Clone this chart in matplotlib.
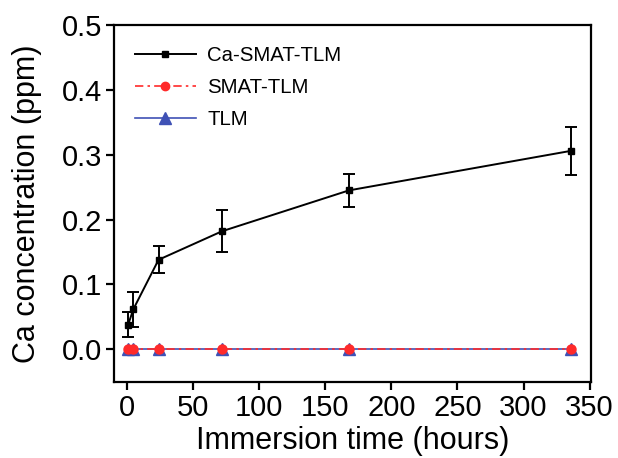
import matplotlib
matplotlib.use("Agg")
import matplotlib.pyplot as plt
from matplotlib.lines import Line2D

plt.rcParams['font.family'] = ['Liberation Sans', 'DejaVu Sans']

time_h = [1, 5, 24, 72, 168, 336]
ca_smat_tlm = [0.038, 0.062, 0.138, 0.182, 0.245, 0.306]
ca_smat_tlm_err = [0.019, 0.027, 0.021, 0.032, 0.026, 0.037]
smat_tlm = [0.0, 0.0, 0.0, 0.0, 0.0, 0.0]
tlm = [0.0, 0.0, 0.0, 0.0, 0.0, 0.0]

xticks = [0, 50, 100, 150, 200, 250, 300, 350]
yticks = [0.0, 0.1, 0.2, 0.3, 0.4, 0.5]

fig = plt.figure(figsize=(6.18, 4.58), dpi=100)
ax = fig.add_axes([0.1838, 0.1666, 0.7725, 0.7788])

blue = '#3f51b5'
red = '#ff2a2a'
dashdot = (0, (5, 2.5, 1.5, 2.5))

ax.plot(time_h, tlm, color=blue, lw=1.2, marker='^', markersize=8.5,
        markerfacecolor=blue, markeredgecolor=blue, zorder=3, label='TLM')
ax.plot(time_h, smat_tlm, color=red, lw=1.2, linestyle=dashdot, marker='o', markersize=6.5,
        markerfacecolor=red, markeredgecolor=red, zorder=4, label='SMAT-TLM')
ax.errorbar(time_h, ca_smat_tlm, yerr=ca_smat_tlm_err, color='black', lw=1.4,
            marker='s', markersize=5, capsize=4.5, elinewidth=1.4, capthick=1.4,
            zorder=5, label='Ca-SMAT-TLM')

ax.set_xlim(-10, 351)
ax.set_ylim(-0.05, 0.5)
ax.set_xticks(xticks)
ax.set_yticks(yticks)
ax.set_yticklabels([f"{v:.1f}" for v in yticks])

for s in ax.spines.values():
    s.set_linewidth(1.6)
ax.tick_params(axis='both', direction='out', length=5.5, width=1.6, labelsize=21, pad=3)
ax.tick_params(top=False, right=False)

ax.set_xlabel('Immersion time (hours)', fontsize=22, labelpad=3)
ax.set_ylabel('Ca concentration (ppm)', fontsize=22, labelpad=14)

handles = [
    Line2D([], [], color='black', lw=1.4, marker='s', markersize=4.5),
    Line2D([], [], color=red, lw=1.2, linestyle=dashdot, marker='o', markersize=6),
    Line2D([], [], color=blue, lw=1.2, marker='^', markersize=8.5),
]
ax.legend(handles, ['Ca-SMAT-TLM', 'SMAT-TLM', 'TLM'], loc='upper left',
          bbox_to_anchor=(0.044, 0.941), frameon=False, fontsize=14.7,
          handlelength=3.0, labelspacing=0.64, handletextpad=0.55,
          borderpad=0, borderaxespad=0)

fig.savefig('out.png', dpi=100)
